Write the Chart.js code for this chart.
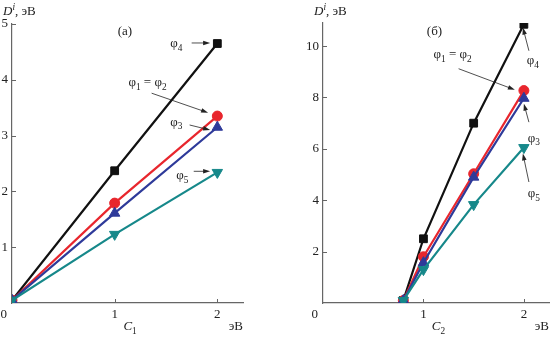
<!DOCTYPE html>
<html>
<head>
<meta charset="utf-8">
<script src="https://cdn.jsdelivr.net/npm/chart.js@4.4.1/dist/chart.umd.min.js"></script>
<style>
  html, body { margin: 0; padding: 0; background: #fff; }
  #wrap { position: relative; width: 556px; height: 338px; }
  canvas { position: absolute; top: 0; }
</style>
</head>
<body>
<div id="wrap">
  <canvas id="chartA" width="278" height="338" style="left:0"></canvas>
  <canvas id="chartB" width="278" height="338" style="left:278px"></canvas>
</div>
<script>
// panel (a): D^i vs C1
var c1 = [0, 1, 2];
var phi4a = [0.05, 2.37, 4.65];
var phi12a = [0.05, 1.79, 3.35];
var phi3a = [0.05, 1.61, 3.15];
var phi5a = [0.05, 1.23, 2.34];
var xTicksA = [1, 2];
var yTicksA = [1, 2, 3, 4, 5];

// panel (б): D^i vs C2
var c2 = [0.8, 1, 1.5, 2];
var phi4b = [0.1, 2.5, 7.0, 10.85];
var phi12b = [0.1, 1.8, 5.03, 8.27];
var phi3b = [0.1, 1.57, 4.9, 7.97];
var phi5b = [0.1, 1.3, 3.83, 6.05];
var xTicksB = [1, 2];
var yTicksB = [2, 4, 6, 8, 10];

var BLACK = '#111111', RED = '#e8262d', BLUE = '#2e3a9a', TEAL = '#16888a';
var AXIS = '#666666', TEXT = '#222222';
var SERIF = '"Liberation Serif", "DejaVu Serif", serif';

function pts(xs, ys) {
    var out = [];
    for (var i = 0; i < xs.length; i++) out.push({x: xs[i], y: ys[i]});
    return out;
}

function series(xs, ys, color, style, radius, rot, order) {
    return {
        data: pts(xs, ys),
        borderColor: color,
        backgroundColor: color,
        borderWidth: 2.2,
        pointStyle: style,
        pointRadius: radius,
        pointRotation: rot,
        pointBorderWidth: 1,
        pointBorderColor: color,
        pointBackgroundColor: color,
        order: order
    };
}

// text with sub/superscripts: parts = [[text, mode, italic]]
function rich(ctx, parts, x, y, align, size) {
    var w = 0;
    parts.forEach(function(p) {
        var s = p[1] ? size * 0.72 : size;
        ctx.font = (p[2] ? 'italic ' : '') + s + 'px ' + SERIF;
        w += ctx.measureText(p[0]).width;
    });
    var cx = align === 'center' ? x - w / 2 : (align === 'right' ? x - w : x);
    ctx.textAlign = 'left';
    ctx.textBaseline = 'alphabetic';
    parts.forEach(function(p) {
        var s = p[1] ? size * 0.72 : size;
        ctx.font = (p[2] ? 'italic ' : '') + s + 'px ' + SERIF;
        var dy = p[1] === 'sub' ? size * 0.28 : (p[1] === 'sup' ? -size * 0.42 : 0);
        ctx.fillText(p[0], cx, y + dy);
        cx += ctx.measureText(p[0]).width;
    });
}

function arrow(ctx, x1, y1, x2, y2) {
    var a = Math.atan2(y2 - y1, x2 - x1);
    ctx.strokeStyle = TEXT;
    ctx.fillStyle = TEXT;
    ctx.lineWidth = 0.8;
    ctx.beginPath();
    ctx.moveTo(x1, y1);
    ctx.lineTo(x2 - 5 * Math.cos(a), y2 - 5 * Math.sin(a));
    ctx.stroke();
    ctx.beginPath();
    ctx.moveTo(x2, y2);
    ctx.lineTo(x2 - 7 * Math.cos(a) + 2.3 * Math.sin(a), y2 - 7 * Math.sin(a) - 2.3 * Math.cos(a));
    ctx.lineTo(x2 - 7 * Math.cos(a) - 2.3 * Math.sin(a), y2 - 7 * Math.sin(a) + 2.3 * Math.cos(a));
    ctx.closePath();
    ctx.fill();
}

function phi(n) { return [['φ'], [String(n), 'sub']]; }

// labels given in data units, drawn through the scales
var notesA = [
    {x: 1.10, y: 4.80, t: [['(а)']]},
    {x: 1.60, y: 4.58, t: phi(4), a: [1.75, 4.66, 1.93, 4.66]},
    {x: 1.32, y: 3.88, t: phi(1).concat([[' = ']], phi(2)), a: [1.36, 3.76, 1.91, 3.41]},
    {x: 1.60, y: 3.18, t: phi(3), a: [1.73, 3.19, 1.93, 3.10]},
    {x: 1.66, y: 2.22, t: phi(5), a: [1.77, 2.36, 1.93, 2.36]}
];
var notesB = [
    {x: 1.11, y: 10.42, t: [['(б)']]},
    {x: 1.29, y: 9.52, t: phi(1).concat([[' = ']], phi(2)), a: [1.35, 9.12, 1.91, 8.3]},
    {x: 2.09, y: 9.30, t: phi(4), a: [2.05, 9.82, 1.99, 10.72]},
    {x: 2.10, y: 6.28, t: phi(3), a: [2.05, 7.04, 2.0, 7.76]},
    {x: 2.10, y: 4.12, t: phi(5), a: [2.05, 4.71, 1.99, 5.82]}
];

function decor(notes, xName, yTicks, xTicks) {
    return {
        id: 'decor',
        afterDraw: function(chart) {
            var ctx = chart.ctx, xs = chart.scales.x, ys = chart.scales.y;
            var area = chart.chartArea;
            ctx.save();
            // inward tick marks
            ctx.strokeStyle = AXIS;
            ctx.lineWidth = 1;
            yTicks.forEach(function(v) {
                var py = Math.round(ys.getPixelForValue(v)) + 0.5;
                ctx.beginPath(); ctx.moveTo(area.left, py); ctx.lineTo(area.left + 4, py); ctx.stroke();
            });
            xTicks.forEach(function(v) {
                var px = Math.round(xs.getPixelForValue(v)) + 0.5;
                ctx.beginPath(); ctx.moveTo(px, area.bottom); ctx.lineTo(px, area.bottom - 4); ctx.stroke();
            });
            ctx.fillStyle = TEXT;
            // origin label
            rich(ctx, [['0']], area.left - 5, area.bottom + 15, 'right', 13);
            // axis titles
            rich(ctx, [['D', false, true], ['i', 'sup', true], [', эВ']], area.left - 9, 15, 'left', 13);
            rich(ctx, [['C', false, true], [xName, 'sub']], xs.getPixelForValue(1.15), 330, 'center', 13);
            rich(ctx, [['эВ']], area.right, 330, 'right', 13);
            // annotations
            notes.forEach(function(n) {
                ctx.fillStyle = TEXT;
                rich(ctx, n.t, xs.getPixelForValue(n.x), ys.getPixelForValue(n.y), 'center', 13);
                if (n.a) {
                    arrow(ctx, xs.getPixelForValue(n.a[0]), ys.getPixelForValue(n.a[1]),
                        xs.getPixelForValue(n.a[2]), ys.getPixelForValue(n.a[3]));
                }
            });
            ctx.restore();
        }
    };
}

function makeChart(id, datasets, yMax, yTicks, xTicks, yWidth, padTop, padRight, notes, xName) {
    return new Chart(document.getElementById(id), {
        type: 'line',
        data: {datasets: datasets},
        options: {
            responsive: false,
            animation: false,
            events: [],
            layout: {padding: {top: padTop, right: padRight, left: 0, bottom: 0}},
            plugins: {legend: {display: false}, tooltip: {enabled: false}},
            elements: {line: {tension: 0}},
            scales: {
                x: {
                    type: 'linear', min: 0, max: 2.25,
                    afterBuildTicks: function(s) { s.ticks = [0].concat(xTicks).map(function(v) { return {value: v}; }); },
                    afterFit: function(s) { s.height = 35; },
                    grid: {display: false, drawTicks: false},
                    border: {display: true, color: AXIS, width: 1.2},
                    ticks: {
                        padding: 4, color: TEXT, maxRotation: 0, autoSkip: false,
                        font: {family: SERIF, size: 13},
                        callback: function(v) { return v === 0 ? '' : v; }
                    }
                },
                y: {
                    type: 'linear', min: 0, max: yMax,
                    afterBuildTicks: function(s) { s.ticks = [0].concat(yTicks).map(function(v) { return {value: v}; }); },
                    afterFit: function(s) { s.width = yWidth; },
                    grid: {display: false, drawTicks: false},
                    border: {display: true, color: AXIS, width: 1.2},
                    ticks: {
                        padding: 4, color: TEXT, autoSkip: false,
                        font: {family: SERIF, size: 13},
                        callback: function(v) { return v === 0 ? '' : v; }
                    }
                }
            }
        },
        plugins: [decor(notes, xName, yTicks, xTicks)]
    });
}

makeChart('chartA', [
    series(c1, phi4a, BLACK, 'rect', 5.5, 0, 4),
    series(c1, phi12a, RED, 'circle', 5, 0, 3),
    series(c1, phi3a, BLUE, 'triangle', 6, 0, 2),
    series(c1, phi5a, TEAL, 'triangle', 6, 180, 1)
], 5, yTicksA, xTicksA, 12, 24, 35, notesA, '1');

makeChart('chartB', [
    series(c2, phi4b, BLACK, 'rect', 5.5, 0, 4),
    series(c2, phi12b, RED, 'circle', 5, 0, 3),
    series(c2, phi3b, BLUE, 'triangle', 6, 0, 2),
    series(c2, phi5b, TEAL, 'triangle', 6, 180, 1)
], 10.9, yTicksB, xTicksB, 45, 23, 0, notesB, '2');
</script>
</body>
</html>
